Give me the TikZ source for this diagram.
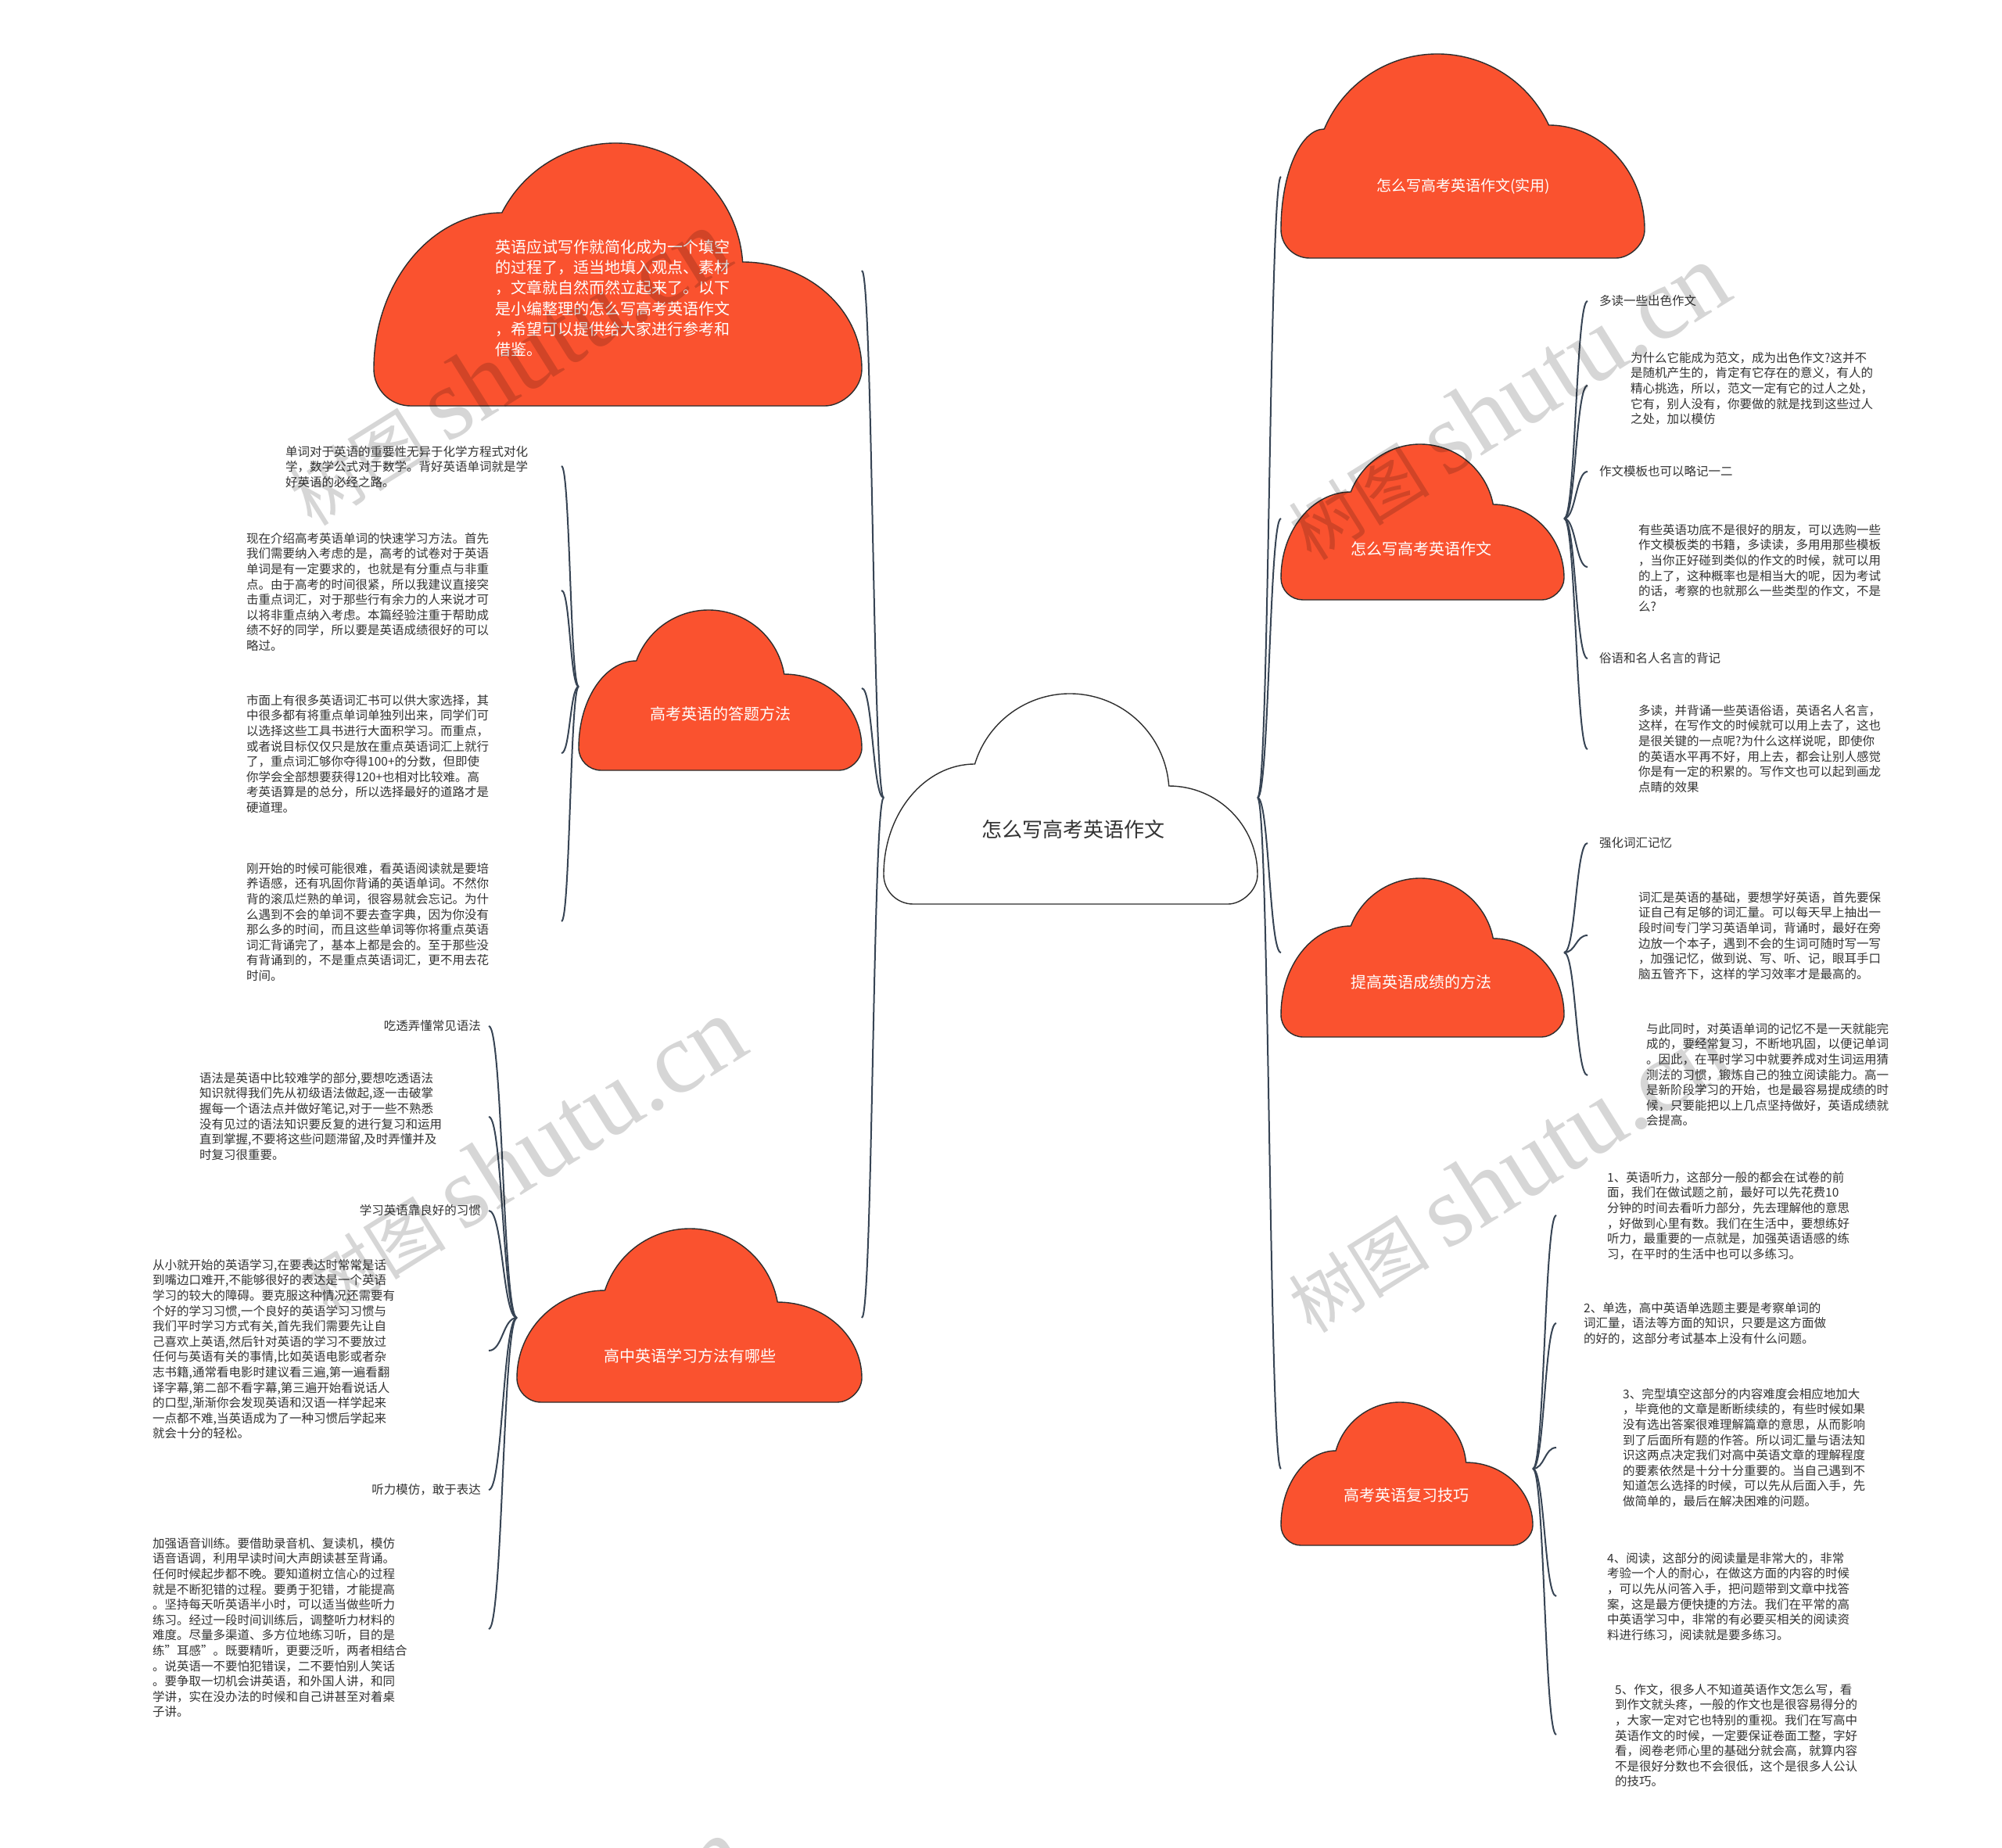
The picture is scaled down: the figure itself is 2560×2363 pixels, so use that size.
\documentclass[tikz,border=0pt]{standalone}
\usepackage{fontspec}
\setmainfont{Noto Sans CJK SC}
\newfontfamily\wmlatin{Liberation Serif}
\usetikzlibrary{calc}
\definecolor{cloudfill}{RGB}{250,82,47}
\definecolor{edgecol}{RGB}{55,68,84}
\definecolor{txtcol}{RGB}{51,51,51}
\definecolor{outlinecol}{RGB}{45,45,45}
% cloud: x0,y0(top),x1,y1(bottom),bump x,bump r,left lobe top,right lobe top,fill  (y measured downward)
\newcommand\mmcloud[9]{%
 \pgfmathsetmacro\mmC{0.14*(#4-#2)}%
 \pgfmathsetmacro\mmCy{#2+#6}%
 \pgfmathsetmacro\mmAL{180-asin((\mmCy-#7)/#6)}%
 \pgfmathsetmacro\mmAR{asin((\mmCy-#8)/#6)}%
 \pgfmathsetmacro\mmJL{#5+#6*cos(\mmAL)}%
 \pgfmathsetmacro\mmJR{#5+#6*cos(\mmAR)}%
 \pgfmathsetmacro\mmYs{#4-\mmC}%
 \draw[cloudline,fill=#9] (#1,-\mmYs)
   .. controls (#1,{-(\mmYs-0.552*(\mmYs-#7))}) and ({\mmJL-0.552*(\mmJL-#1)},-#7) .. (\mmJL,-#7)
   arc[start angle=\mmAL,end angle=\mmAR,radius=#6]
   .. controls ({\mmJR+0.552*(#3-\mmJR)},-#8) and (#3,{-(\mmYs-0.552*(\mmYs-#8))}) .. (#3,-\mmYs)
   .. controls (#3,{-(\mmYs+0.552*\mmC)}) and ({#3-0.552*\mmC},-#4) .. ({#3-\mmC},-#4)
   -- ({#1+\mmC},-#4)
   .. controls ({#1+0.448*\mmC},-#4) and (#1,{-(\mmYs+0.552*\mmC)}) .. (#1,-\mmYs) -- cycle;%
}
\newcommand\mmconn[2]{\draw[mmedge] let \p1=(#1), \p2=(#2) in (#1) .. controls ({(\x1+\x2)/2},\y1) and ({(\x1+\x2)/2},\y2) .. (#2);}
\newcommand\wmtext{\fontsize{90}{90}\selectfont 树图\hspace{0.25em}{\wmlatin\fontsize{130}{130}\selectfont shutu.cn}}
\begin{document}
\begin{tikzpicture}[x=1pt,y=1pt,
 mmedge/.style={draw=edgecol,line width=2pt},
 cloudline/.style={draw=outlinecol,line width=1.4pt},
 para/.style={anchor=north west,inner sep=0pt,align=left,text=txtcol,font=\fontsize{15.5}{19.6}\selectfont},
 lab/.style={inner sep=0pt,text=txtcol,font=\fontsize{15.5}{19.6}\selectfont},
 ctext/.style={inner sep=0pt,text=white,font=\fontsize{20}{24}\selectfont},
 wm/.style={rotate=32,inner sep=0pt,text=black,text opacity=0.16}]
\fill[white] (0,0) rectangle (2560,-2363);
\useasboundingbox (0,0) rectangle (2560,-2363);
% ports
\coordinate (cL) at (1130,-1020);
\coordinate (cR) at (1608,-1020);
\coordinate (c1p) at (1102,-346);
\coordinate (c6p) at (1102,-880);
\coordinate (c7p) at (1102,-1685);
\coordinate (c2p) at (1638,-226);
\coordinate (c3p) at (1638,-663);
\coordinate (c4p) at (1638,-1218);
\coordinate (c5p) at (1638,-1878);
\coordinate (c6L) at (740,-878);
\coordinate (c7L) at (661,-1685);
\coordinate (c3R) at (2000,-663);
\coordinate (c4R) at (2000,-1218);
\coordinate (c5R) at (1960,-1878);
\coordinate (qa) at (718,-596);
\coordinate (qb) at (718,-755);
\coordinate (qc) at (718,-963);
\coordinate (qd) at (718,-1178);
\coordinate (qe) at (625,-1312);
\coordinate (qf) at (625,-1428);
\coordinate (qg) at (625,-1548);
\coordinate (qh) at (625,-1727);
\coordinate (qi) at (625,-1905);
\coordinate (qj) at (625,-2083);
\coordinate (qk) at (2030,-385);
\coordinate (ql) at (2030,-493);
\coordinate (qm0) at (2030,-603);
\coordinate (qm) at (2030,-725);
\coordinate (qn0) at (2030,-842);
\coordinate (qn) at (2030,-958);
\coordinate (qo0) at (2030,-1078);
\coordinate (qo) at (2030,-1196);
\coordinate (qp) at (2030,-1375);
\coordinate (qq) at (1990,-1554);
\coordinate (qr) at (1990,-1692);
\coordinate (qs) at (1990,-1851);
\coordinate (qt) at (1990,-2041);
\coordinate (qu) at (1990,-2218);
% connectors
\mmconn{cL}{c1p}\mmconn{cL}{c6p}\mmconn{cL}{c7p}
\mmconn{cR}{c2p}\mmconn{cR}{c3p}\mmconn{cR}{c4p}\mmconn{cR}{c5p}
\mmconn{c6L}{qa}\mmconn{c6L}{qb}\mmconn{c6L}{qc}\mmconn{c6L}{qd}
\mmconn{c7L}{qe}\mmconn{c7L}{qf}\mmconn{c7L}{qg}\mmconn{c7L}{qh}\mmconn{c7L}{qi}\mmconn{c7L}{qj}
\mmconn{c3R}{qk}\mmconn{c3R}{ql}\mmconn{c3R}{qm0}\mmconn{c3R}{qm}\mmconn{c3R}{qn0}\mmconn{c3R}{qn}
\mmconn{c4R}{qo0}\mmconn{c4R}{qo}\mmconn{c4R}{qp}
\mmconn{c5R}{qq}\mmconn{c5R}{qr}\mmconn{c5R}{qs}\mmconn{c5R}{qt}\mmconn{c5R}{qu}
% clouds
\mmcloud{1130}{887}{1608}{1156}{1368}{127}{977}{1005}{white}
\mmcloud{478}{183}{1102}{519}{787}{163}{272}{335}{cloudfill}
\mmcloud{1638}{69}{2103}{330}{1838}{157}{165}{160}{cloudfill}
\mmcloud{1638}{568}{2000}{767}{1816}{95}{629}{645}{cloudfill}
\mmcloud{1638}{1123}{2000}{1326}{1816}{95}{1184}{1200}{cloudfill}
\mmcloud{1638}{1793}{1960}{1976}{1790}{85}{1855}{1870}{cloudfill}
\mmcloud{740}{780}{1102}{985}{906}{98}{845}{862}{cloudfill}
\mmcloud{661}{1571}{1102}{1793}{882}{114}{1650}{1665}{cloudfill}
% cloud texts
\node[inner sep=0pt,text=txtcol,font=\fontsize{26}{30}\selectfont] (c0) at (1372,-1061) {怎么写高考英语作文};
\node[anchor=north west,inner sep=0pt,align=left,text=white,font=\fontsize{20}{26.3}\selectfont] (c1) at (633,-306) {英语应试写作就简化成为一个填空\\的过程了，适当地填入观点、素材\\，文章就自然而然立起来了。以下\\是小编整理的怎么写高考英语作文\\，希望可以提供给大家进行参考和\\借鉴。};
\node[ctext,font=\fontsize{19}{24}\selectfont] (c2) at (1871,-238) {怎么写高考英语作文(实用)};
\node[ctext] (c3) at (1817,-702) {怎么写高考英语作文};
\node[ctext] (c4) at (1817,-1256) {提高英语成绩的方法};
\node[ctext] (c5) at (1798,-1912) {高考英语复习技巧};
\node[ctext] (c6) at (921,-913) {高考英语的答题方法};
\node[ctext] (c7) at (882,-1734) {高中英语学习方法有哪些};
% left texts
\node[para] (ta) at (365,-570) {单词对于英语的重要性无异于化学方程式对化\\学，数学公式对于数学。背好英语单词就是学\\好英语的必经之路。};
\node[para] (tb) at (315,-681) {现在介绍高考英语单词的快速学习方法。首先\\我们需要纳入考虑的是，高考的试卷对于英语\\单词是有一定要求的，也就是有分重点与非重\\点。由于高考的时间很紧，所以我建议直接突\\击重点词汇，对于那些行有余力的人来说才可\\以将非重点纳入考虑。本篇经验注重于帮助成\\绩不好的同学，所以要是英语成绩很好的可以\\略过。};
\node[para] (tc) at (315,-888) {市面上有很多英语词汇书可以供大家选择，其\\中很多都有将重点单词单独列出来，同学们可\\以选择这些工具书进行大面积学习。而重点，\\或者说目标仅仅只是放在重点英语词汇上就行\\了，重点词汇够你夺得100+的分数，但即使\\你学会全部想要获得120+也相对比较难。高\\考英语算是的总分，所以选择最好的道路才是\\硬道理。};
\node[para] (td) at (315,-1103) {刚开始的时候可能很难，看英语阅读就是要培\\养语感，还有巩固你背诵的英语单词。不然你\\背的滚瓜烂熟的单词，很容易就会忘记。为什\\么遇到不会的单词不要去查字典，因为你没有\\那么多的时间，而且这些单词等你将重点英语\\词汇背诵完了，基本上都是会的。至于那些没\\有背诵到的，不是重点英语词汇，更不用去花\\时间。};
\node[lab,anchor=east] (te) at (615,-1312) {吃透弄懂常见语法};
\node[para] (tf) at (255,-1371) {语法是英语中比较难学的部分,要想吃透语法\\知识就得我们先从初级语法做起,逐一击破掌\\握每一个语法点并做好笔记,对于一些不熟悉\\没有见过的语法知识要反复的进行复习和运用\\直到掌握,不要将这些问题滞留,及时弄懂并及\\时复习很重要。};
\node[lab,anchor=east] (tg) at (615,-1548) {学习英语靠良好的习惯};
\node[para] (th) at (195,-1610) {从小就开始的英语学习,在要表达时常常是话\\到嘴边口难开,不能够很好的表达是一个英语\\学习的较大的障碍。要克服这种情况还需要有\\个好的学习习惯,一个良好的英语学习习惯与\\我们平时学习方式有关,首先我们需要先让自\\己喜欢上英语,然后针对英语的学习不要放过\\任何与英语有关的事情,比如英语电影或者杂\\志书籍,通常看电影时建议看三遍,第一遍看翻\\译字幕,第二部不看字幕,第三遍开始看说话人\\的口型,渐渐你会发现英语和汉语一样学起来\\一点都不难,当英语成为了一种习惯后学起来\\就会十分的轻松。};
\node[lab,anchor=east] (ti) at (615,-1905) {听力模仿，敢于表达};
\node[para] (tj) at (195,-1966) {加强语音训练。要借助录音机、复读机，模仿\\语音语调，利用早读时间大声朗读甚至背诵。\\任何时候起步都不晚。要知道树立信心的过程\\就是不断犯错的过程。要勇于犯错，才能提高\\。坚持每天听英语半小时，可以适当做些听力\\练习。经过一段时间训练后，调整听力材料的\\难度。尽量多渠道、多方位地练习听，目的是\\练"耳感"。既要精听，更要泛听，两者相结合\\。说英语一不要怕犯错误，二不要怕别人笑话\\。要争取一切机会讲英语，和外国人讲，和同\\学讲，实在没办法的时候和自己讲甚至对着桌\\子讲。};
% right texts
\node[lab,anchor=west] (tk) at (2045,-385) {多读一些出色作文};
\node[para] (tl) at (2085,-450) {为什么它能成为范文，成为出色作文?这并不\\是随机产生的，肯定有它存在的意义，有人的\\精心挑选，所以，范文一定有它的过人之处，\\它有，别人没有，你要做的就是找到这些过人\\之处，加以模仿};
\node[lab,anchor=west] (tm0) at (2045,-603) {作文模板也可以略记一二};
\node[para] (tm) at (2095,-670) {有些英语功底不是很好的朋友，可以选购一些\\作文模板类的书籍，多读读，多用用那些模板\\，当你正好碰到类似的作文的时候，就可以用\\的上了，这种概率也是相当大的呢，因为考试\\的话，考察的也就那么一些类型的作文，不是\\么?};
\node[lab,anchor=west] (tn0) at (2045,-842) {俗语和名人名言的背记};
\node[para] (tn) at (2095,-901) {多读，并背诵一些英语俗语，英语名人名言，\\这样，在写作文的时候就可以用上去了，这也\\是很关键的一点呢?为什么这样说呢，即使你\\的英语水平再不好，用上去，都会让别人感觉\\你是有一定的积累的。写作文也可以起到画龙\\点睛的效果};
\node[lab,anchor=west] (to0) at (2045,-1078) {强化词汇记忆};
\node[para] (to) at (2095,-1140) {词汇是英语的基础，要想学好英语，首先要保\\证自己有足够的词汇量。可以每天早上抽出一\\段时间专门学习英语单词，背诵时，最好在旁\\边放一个本子，遇到不会的生词可随时写一写\\，加强记忆，做到说、写、听、记，眼耳手口\\脑五管齐下，这样的学习效率才是最高的。};
\node[para] (tp) at (2105,-1308) {与此同时，对英语单词的记忆不是一天就能完\\成的，要经常复习，不断地巩固，以便记单词\\。因此，在平时学习中就要养成对生词运用猜\\测法的习惯，锻炼自己的独立阅读能力。高一\\是新阶段学习的开始，也是最容易提成绩的时\\候，只要能把以上几点坚持做好，英语成绩就\\会提高。};
\node[para] (tq) at (2055,-1498) {1、英语听力，这部分一般的都会在试卷的前\\面，我们在做试题之前，最好可以先花费10\\分钟的时间去看听力部分，先去理解他的意思\\，好做到心里有数。我们在生活中，要想练好\\听力，最重要的一点就是，加强英语语感的练\\习，在平时的生活中也可以多练习。};
\node[para] (tr) at (2025,-1665) {2、单选，高中英语单选题主要是考察单词的\\词汇量，语法等方面的知识，只要是这方面做\\的好的，这部分考试基本上没有什么问题。};
\node[para] (ts) at (2075,-1775) {3、完型填空这部分的内容难度会相应地加大\\，毕竟他的文章是断断续续的，有些时候如果\\没有选出答案很难理解篇章的意思，从而影响\\到了后面所有题的作答。所以词汇量与语法知\\识这两点决定我们对高中英语文章的理解程度\\的要素依然是十分十分重要的。当自己遇到不\\知道怎么选择的时候，可以先从后面入手，先\\做简单的，最后在解决困难的问题。};
\node[para] (tt) at (2055,-1985) {4、阅读，这部分的阅读量是非常大的，非常\\考验一个人的耐心，在做这方面的内容的时候\\，可以先从问答入手，把问题带到文章中找答\\案，这是最方便快捷的方法。我们在平常的高\\中英语学习中，非常的有必要买相关的阅读资\\料进行练习，阅读就是要多练习。};
\node[para] (tu) at (2065,-2153) {5、作文，很多人不知道英语作文怎么写，看\\到作文就头疼，一般的作文也是很容易得分的\\，大家一定对它也特别的重视。我们在写高中\\英语作文的时候，一定要保证卷面工整，字好\\看，阅卷老师心里的基础分就会高，就算内容\\不是很好分数也不会很低，这个是很多人公认\\的技巧。};
% watermarks
\node[wm] (wm1) at (649,-470) {\wmtext};
\node[wm] (wm2) at (1927,-514) {\wmtext};
\node[wm] (wm3) at (669,-1478) {\wmtext};
\node[wm] (wm4) at (1927,-1502) {\wmtext};
\node[wm] (wm5) at (669,-2526) {\wmtext};
\node[wm] (wm6) at (1927,-2545) {\wmtext};
\end{tikzpicture}
\end{document}
